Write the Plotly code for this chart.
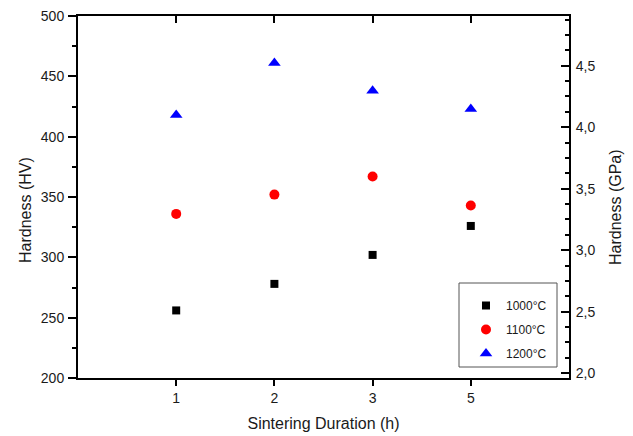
import plotly.graph_objects as go

durations = ["1", "2", "3", "5"]
hv_1000 = [256, 278, 302, 326]
hv_1100 = [336, 352, 367, 343]
hv_1200 = [418, 461, 438, 423]
series_names = ["1000°C", "1100°C", "1200°C"]
hv_range = [200, 500]
hv_to_gpa = 0.009807
gpa_ticks = [2.0, 2.5, 3.0, 3.5, 4.0, 4.5]
gpa_ticktext = ["2,0", "2,5", "3,0", "3,5", "4,0", "4,5"]

FONT = "Liberation Sans, Arial, sans-serif"
TXT = "#1a1a1a"

fig = go.Figure()
styles = [
    dict(symbol="square", color="black", size=8),
    dict(symbol="circle", color="red", size=10),
    dict(symbol="triangle-up", color="blue", size=11),
]
for i, (name, vals, st) in enumerate(zip(series_names, [hv_1000, hv_1100, hv_1200], styles)):
    fig.add_trace(go.Scatter(
        x=durations, y=vals, mode="markers", name=name,
        legendgroup=f"g{i}",
        marker=dict(symbol=st["symbol"], color=st["color"], size=st["size"], line=dict(width=0)),
    ))

# invisible companion trace so the GPa (right) and top axes get drawn
fig.add_trace(go.Scatter(
    x=list(range(len(durations))), y=[v * hv_to_gpa for v in hv_1200],
    xaxis="x2", yaxis="y2", mode="markers", marker=dict(opacity=0),
    showlegend=False, hoverinfo="skip",
))

L, R, T, B = 78, 64, 16, 58
W, H = 633, 436
pw, ph = W - L - R, H - T - B

def px_x(px):
    return (px - L) / pw

def px_y(py):
    return (H - B - py) / ph

fig.update_layout(
    width=W, height=H,
    margin=dict(l=L, r=R, t=T, b=B, pad=0, autoexpand=False),
    paper_bgcolor="white", plot_bgcolor="white",
    font=dict(family=FONT, size=14, color=TXT),
    showlegend=True,
    legend=dict(
        x=px_x(466), y=px_y(291), xanchor="left", yanchor="top",
        bgcolor="rgba(0,0,0,0)", borderwidth=0,
        font=dict(family=FONT, size=12, color=TXT),
        tracegroupgap=5, traceorder="grouped",
    ),
    xaxis=dict(
        type="category", range=[-1, 4], automargin=False,
        showline=True, linecolor="black", linewidth=2,
        ticks="outside", ticklen=6, tickwidth=1.5, tickcolor="black",
        showgrid=False, zeroline=False,
        tickfont=dict(size=14, color=TXT),
        title=dict(text="Sintering Duration (h)", font=dict(size=16, color=TXT), standoff=13),
    ),
    xaxis2=dict(
        overlaying="x", side="top", range=[-1, 4], anchor="y", automargin=False,
        tickmode="array", tickvals=[0, 1, 2, 3],
        showticklabels=False, showline=True, linecolor="black", linewidth=2,
        ticks="inside", ticklen=7, tickwidth=1.5, tickcolor="black",
        showgrid=False, zeroline=False,
    ),
    yaxis=dict(
        range=hv_range, dtick=50, tick0=0, automargin=False,
        showline=True, linecolor="black", linewidth=2,
        ticks="outside", ticklen=8, tickwidth=1.5, tickcolor="black",
        minor=dict(dtick=25, ticks="outside", ticklen=4, tickwidth=1.5, tickcolor="black", showgrid=False),
        showgrid=False, zeroline=False,
        tickfont=dict(size=14, color=TXT),
        ticklabelstandoff=1,
    ),
    yaxis2=dict(
        overlaying="y", side="right", anchor="x", automargin=False,
        range=[hv_range[0] * hv_to_gpa, hv_range[1] * hv_to_gpa],
        tickmode="array", tickvals=gpa_ticks, ticktext=gpa_ticktext,
        showline=True, linecolor="black", linewidth=2,
        ticks="inside", ticklen=8, tickwidth=1.5, tickcolor="black",
        minor=dict(dtick=0.125, tick0=2.0, ticks="inside", ticklen=4, tickwidth=1.5, tickcolor="black", showgrid=False),
        showgrid=False, zeroline=False,
        tickfont=dict(size=14, color=TXT),
        ticklabelstandoff=2,
    ),
    shapes=[dict(
        type="rect", xref="paper", yref="paper",
        x0=px_x(459), x1=px_x(557), y0=px_y(367), y1=px_y(283),
        line=dict(color="#555555", width=1), fillcolor="rgba(0,0,0,0)",
    )],
    annotations=[
        dict(text="Hardness (HV)", xref="paper", yref="paper",
             x=px_x(25), y=px_y(210), showarrow=False, textangle=-90,
             xanchor="center", yanchor="middle", font=dict(size=16, color=TXT)),
        dict(text="Hardness (GPa)", xref="paper", yref="paper",
             x=px_x(615), y=px_y(207), showarrow=False, textangle=-90,
             xanchor="center", yanchor="middle", font=dict(size=16, color=TXT)),
    ],
)

fig.write_html(
    "out.html",
    config={"displayModeBar": False},
    post_script="document.body.style.margin='0';document.body.style.overflow='hidden';",
)
